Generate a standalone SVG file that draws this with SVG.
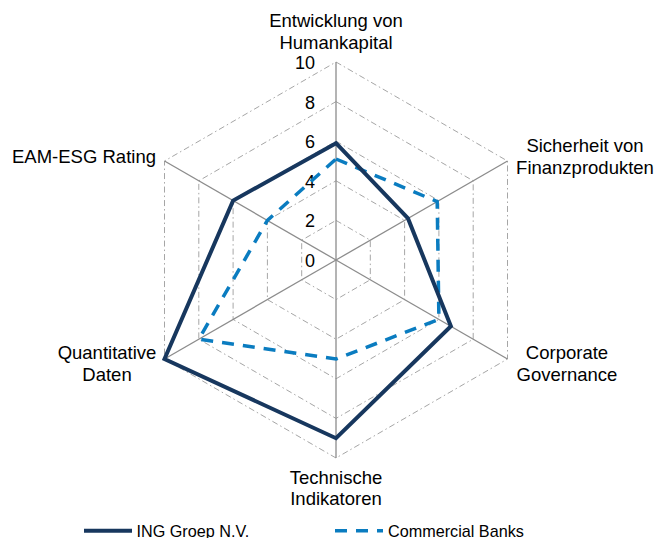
<svg xmlns="http://www.w3.org/2000/svg" width="666" height="538" viewBox="0 0 666 538">
<style>
text{font-family:"Liberation Sans",Arial,sans-serif;fill:#000}
.lbl{font-size:18.5px;text-anchor:middle}
.tick{font-size:18px;text-anchor:end}
.leg{font-size:16.2px}
.ring{fill:none;stroke:#A6A6A6;stroke-width:1;stroke-dasharray:6 3 1.5 3}
.axis{stroke:#8C8C8C;stroke-width:1.3}
.ing{fill:none;stroke:#17375E;stroke-width:4;stroke-linejoin:miter}
.cb{fill:none;stroke:#0A7CC0;stroke-width:3.5;stroke-dasharray:12 9}
</style>
<rect width="666" height="538" fill="#fff"/>
<g id="grid">
<polygon class="ring" points="336,220.4 370.3,240.2 370.3,279.8 336,299.6 301.7,279.8 301.7,240.2"/>
<polygon class="ring" points="336,180.8 404.6,220.4 404.6,299.6 336,339.2 267.4,299.6 267.4,220.4"/>
<polygon class="ring" points="336,141.2 438.9,200.6 438.9,319.4 336,378.8 233.1,319.4 233.1,200.6"/>
<polygon class="ring" points="336,101.6 473.2,180.8 473.2,339.2 336,418.4 198.8,339.2 198.8,180.8"/>
<polygon class="ring" points="336,62 507.5,161 507.5,359 336,458 164.5,359 164.5,161"/>
<line class="axis" x1="336" y1="260" x2="336" y2="62"/>
<line class="axis" x1="336" y1="260" x2="507.5" y2="161"/>
<line class="axis" x1="336" y1="260" x2="507.5" y2="359"/>
<line class="axis" x1="336" y1="260" x2="336" y2="458"/>
<line class="axis" x1="336" y1="260" x2="164.5" y2="359"/>
<line class="axis" x1="336" y1="260" x2="164.5" y2="161"/>
</g>
<g id="ticks">
<text class="tick" x="315" y="267">0</text>
<text class="tick" x="315" y="227.4">2</text>
<text class="tick" x="315" y="187.8">4</text>
<text class="tick" x="315" y="148.2">6</text>
<text class="tick" x="315" y="108.6">8</text>
<text class="tick" x="315" y="69">10</text>
</g>
<g id="series">
<polygon class="cb" points="336,159 437.2,201.6 438.9,319.4 336,359 198.8,339.2 267.4,220.4"/>
<polygon class="ing" points="336,143.2 408,218.4 450.9,326.3 336,438.2 164.5,359 233.1,200.6"/>
</g>
<g id="labels">
<text class="lbl" x="336" y="27">Entwicklung von</text>
<text class="lbl" x="336" y="49">Humankapital</text>
<text class="lbl" x="585" y="152">Sicherheit von</text>
<text class="lbl" x="585" y="173.5">Finanzprodukten</text>
<text class="lbl" x="567" y="358.5">Corporate</text>
<text class="lbl" x="567" y="380.5">Governance</text>
<text class="lbl" x="336" y="483.5">Technische</text>
<text class="lbl" x="336" y="505">Indikatoren</text>
<text class="lbl" x="107" y="359">Quantitative</text>
<text class="lbl" x="107" y="381">Daten</text>
<text class="lbl" x="84" y="162.5">EAM-ESG Rating</text>
</g>
<g id="legend">
<line x1="84" y1="530.7" x2="132" y2="530.7" stroke="#17375E" stroke-width="4"/>
<text class="leg" x="136.5" y="536.5">ING Groep N.V.</text>
<line x1="335" y1="530.7" x2="383" y2="530.7" stroke="#0A7CC0" stroke-width="3.5" stroke-dasharray="12 9"/>
<text class="leg" x="388" y="536.5">Commercial Banks</text>
</g>
</svg>
